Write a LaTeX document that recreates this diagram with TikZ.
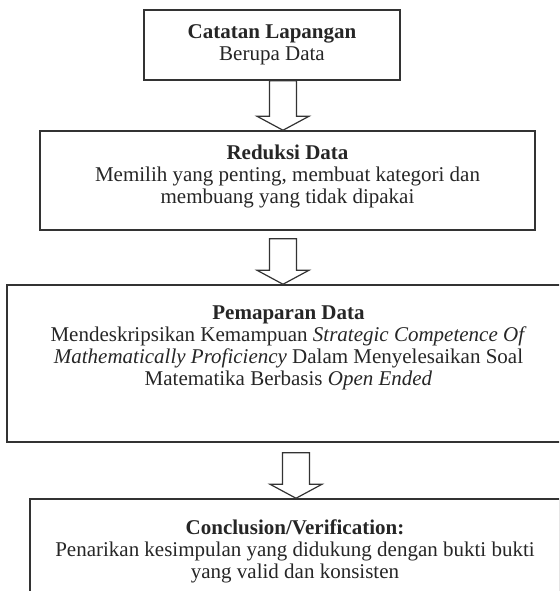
\documentclass[tikz,border=0pt]{standalone}
\usepackage{fontspec}
\setmainfont{Liberation Serif}
\usetikzlibrary{calc}

% panah blok ke bawah: x, kotak atas, kotak bawah, jarak
\newcommand{\panahbawah}[4]{%
  \coordinate (xa) at (#1,0);
  \coordinate (atas) at ($(xa |- #2.south)+(0,#4)$);
  \coordinate (ujung) at (xa |- #3.north);
  \draw[panah] ($(atas)+(-13.5,0)$) -- ($(ujung)+(-13.5,-14)$) -- ($(ujung)+(-26,-14)$)
    -- (ujung) -- ($(ujung)+(26,-14)$) -- ($(ujung)+(13.5,-14)$) -- ($(atas)+(13.5,0)$) -- cycle;
}

\begin{document}
\begin{tikzpicture}[x=1pt,y=-1pt,
    kotak/.style={draw=black!80, line width=1.5pt, inner sep=0pt},
    isi/.style={align=center, anchor=north, inner sep=0pt, text=black!85,
      font=\fontsize{21}{22}\selectfont},
    panah/.style={draw=black!80, line width=1.2pt, fill=white}]
        \clip (0,0) rectangle (559,591);

        % Kotak
        \node[kotak, minimum width=256pt, minimum height=70pt] (B1) at (272,45) {};
        \node[kotak, minimum width=495pt, minimum height=99pt] (B2) at (287.5,180.5) {};
        \node[kotak, minimum width=563pt, minimum height=157pt] (B3) at (288.5,363.5) {};
        \node[kotak, minimum width=530pt, minimum height=141pt] (B4) at (295,569.5) {};

        \node[isi] (T1) at ($(B1.north)+(0,15)$) {\textbf{Catatan Lapangan}\\Berupa Data};
        \node[isi] (T2) at ($(B2.north)+(0,14)$) {\textbf{Reduksi Data}\\
          Memilih yang penting, membuat kategori dan\\membuang yang tidak dipakai};
        \node[isi] (T3) at ($(B3.north)+(0,21)$) {\textbf{Pemaparan Data}\\
          Mendeskripsikan Kemampuan \textit{Strategic Competence Of}\\
          \textit{Mathematically Proficiency} Dalam Menyelesaikan Soal\\
          Matematika Berbasis \textit{Open Ended}};
        \node[isi] (T4) at ($(B4.north)+(0,21)$) {\textbf{Conclusion/Verification:}\\
          Penarikan kesimpulan yang didukung dengan bukti bukti\\yang valid dan konsisten};

        % Panah
        \panahbawah{283}{B1}{B2}{0}
        \panahbawah{283}{B2}{B3}{8}
        \panahbawah{296}{B3}{B4}{10}
    \end{tikzpicture}
\end{document}
